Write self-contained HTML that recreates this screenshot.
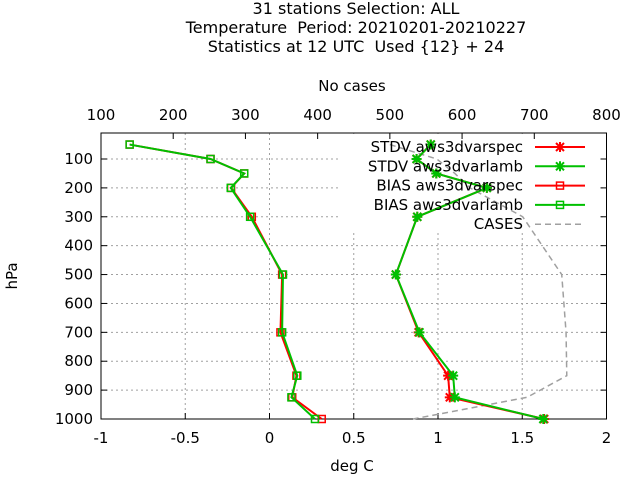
<!DOCTYPE html>
<html><head><meta charset="utf-8"><style>
body{margin:0;background:#fff}
svg{display:block;font-family:"DejaVu Sans","Liberation Sans",sans-serif}
text{white-space:pre}
</style></head><body>
<svg id="c" width="640" height="480" viewBox="0 0 640 480">
<g font-size="16" fill="#000" text-anchor="middle">
<text x="356" y="14" xml:space="preserve">31 stations Selection: ALL</text>
<text x="356" y="33" xml:space="preserve">Temperature  Period: 20210201-20210227</text>
<text x="356" y="52" xml:space="preserve">Statistics at 12 UTC  Used {12} + 24</text>
</g>
<text x="352" y="91" font-size="15" text-anchor="middle">No cases</text>
<text x="352" y="471" font-size="15" text-anchor="middle">deg C</text>
<text x="17" y="276" font-size="15" text-anchor="middle" transform="rotate(-90 17 276)">hPa</text>
<g id="grid"></g>
<g id="axes"></g>
<g id="series"></g>
<g id="legend"></g>
</svg>
<script>
const levels=[50,100,150,200,300,500,700,850,925,1000];
const stdvSpec=[0.957,0.873,0.99,1.29,0.877,0.75,0.885,1.06,1.07,1.63];
const stdvLamb=[0.957,0.873,0.99,1.29,0.877,0.75,0.89,1.09,1.10,1.625];
const biasSpec=[-0.83,-0.35,-0.15,-0.228,-0.105,0.075,0.065,0.16,0.135,0.31];
const biasLamb=[-0.83,-0.35,-0.15,-0.23,-0.115,0.08,0.075,0.165,0.13,0.27];
const cases=[500,565,590,611,684,738,744,745,690,532];
const xTicks=[-1,-0.5,0,0.5,1,1.5,2];
const xTickLabels=["-1","-0.5","0","0.5","1","1.5","2"];
const topTicks=[100,200,300,400,500,600,700,800];
const yTicks=[100,200,300,400,500,600,700,800,900,1000];
const L=101,R=606.5,T=133,B=419;
const X=v=>L+(v+1)/3*(R-L);
const XC=v=>L+(v-100)/700*(R-L);
const Y=p=>B-(1000-p)/990*(B-T);
const NS='http://www.w3.org/2000/svg';
function mk(tag,at,parent){const e=document.createElementNS(NS,tag);for(const k in at)e.setAttribute(k,at[k]);parent.appendChild(e);return e;}
const grid=document.getElementById('grid'),axes=document.getElementById('axes'),ser=document.getElementById('series'),leg=document.getElementById('legend');
xTicks.forEach((v,i)=>{
 if(i>0&&i<xTicks.length-1){const g=mk('line',{x1:X(v),x2:X(v),y1:T,y2:B,stroke:'#a0a0a0','stroke-dasharray':'2,3'},grid);
 }
 const t=mk('line',{x1:X(v),x2:X(v),y1:B,y2:B-6,stroke:'#000'},axes);
 
 const l=mk('text',{x:X(v),y:443,'font-size':15,'text-anchor':'middle'},axes);l.textContent=xTickLabels[i];
 
});
topTicks.forEach(v=>{
 const t=mk('line',{x1:XC(v),x2:XC(v),y1:T,y2:T+6,stroke:'#000'},axes);
 
 const l=mk('text',{x:XC(v),y:120,'font-size':15,'text-anchor':'middle'},axes);l.textContent=v;
 
});
yTicks.forEach(p=>{
 if(p<1000){const g=mk('line',{x1:L,x2:R,y1:Y(p),y2:Y(p),stroke:'#a0a0a0','stroke-dasharray':'2,3'},grid);
 }
 const t=mk('line',{x1:L,x2:L+6,y1:Y(p),y2:Y(p),stroke:'#000'},axes);
 
 const t2=mk('line',{x1:R,x2:R-6,y1:Y(p),y2:Y(p),stroke:'#000'},axes);
 
 const l=mk('text',{x:93,y:Y(p)+5,'font-size':15,'text-anchor':'end'},axes);l.textContent=p;
 
});
const frame=mk('rect',{x:L,y:T,width:R-L,height:B-T,fill:'none',stroke:'#000'},axes);

const lb=mk('rect',{x:339,y:T+1,width:260,height:99,fill:'#fff'},grid);

function star(x,y,c,g){const d=`M${x-4},${y-4}L${x+4},${y+4}M${x-4},${y+4}L${x+4},${y-4}M${x-5},${y}L${x+5},${y}M${x},${y-5}L${x},${y+5}`;
 const e=mk('path',{d:d,stroke:c,'stroke-width':2,fill:'none'},g);}
function sq(x,y,c,g){const e=mk('rect',{x:x-3.5,y:y-3.5,width:7,height:7,stroke:c,'stroke-width':1.5,fill:'none'},g);
 }
const cp=mk('polyline',{points:cases.map((v,i)=>XC(v)+','+Y(levels[i])).join(' '),fill:'none',stroke:'#a0a0a0','stroke-width':1.5,'stroke-dasharray':'6,4'},ser);

const series=[[stdvSpec,'#ff0000',star,'stdv-spec'],[stdvLamb,'#00c000',star,'stdv-lamb'],[biasSpec,'#ff0000',sq,'bias-spec'],[biasLamb,'#00c000',sq,'bias-lamb']];
series.forEach(([d,c,m,n])=>{
 const g=mk('g',{},ser);
 const pl=mk('polyline',{points:d.map((v,i)=>X(v)+','+Y(levels[i])).join(' '),fill:'none',stroke:c,'stroke-width':2},g);
 
 d.forEach((v,i)=>m(X(v),Y(levels[i]),c,g));
});
const names=['STDV aws3dvarspec','STDV aws3dvarlamb','BIAS aws3dvarspec','BIAS aws3dvarlamb','CASES'];
names.forEach((n,i)=>{
 const y=147+i*19.3;
 const t=mk('text',{x:523,y:y+5,'font-size':15,'text-anchor':'end'},leg);t.textContent=n;
 
 if(i<4){const s=series[i];const l=mk('line',{x1:535,x2:585,y1:y,y2:y,stroke:s[1],'stroke-width':2},leg);
 s[2](560,y,s[1],leg);}
 else{const l=mk('line',{x1:535,x2:585,y1:y,y2:y,stroke:'#a0a0a0','stroke-width':1.5,'stroke-dasharray':'6,4'},leg);
 }
});
</script>
</body></html>
